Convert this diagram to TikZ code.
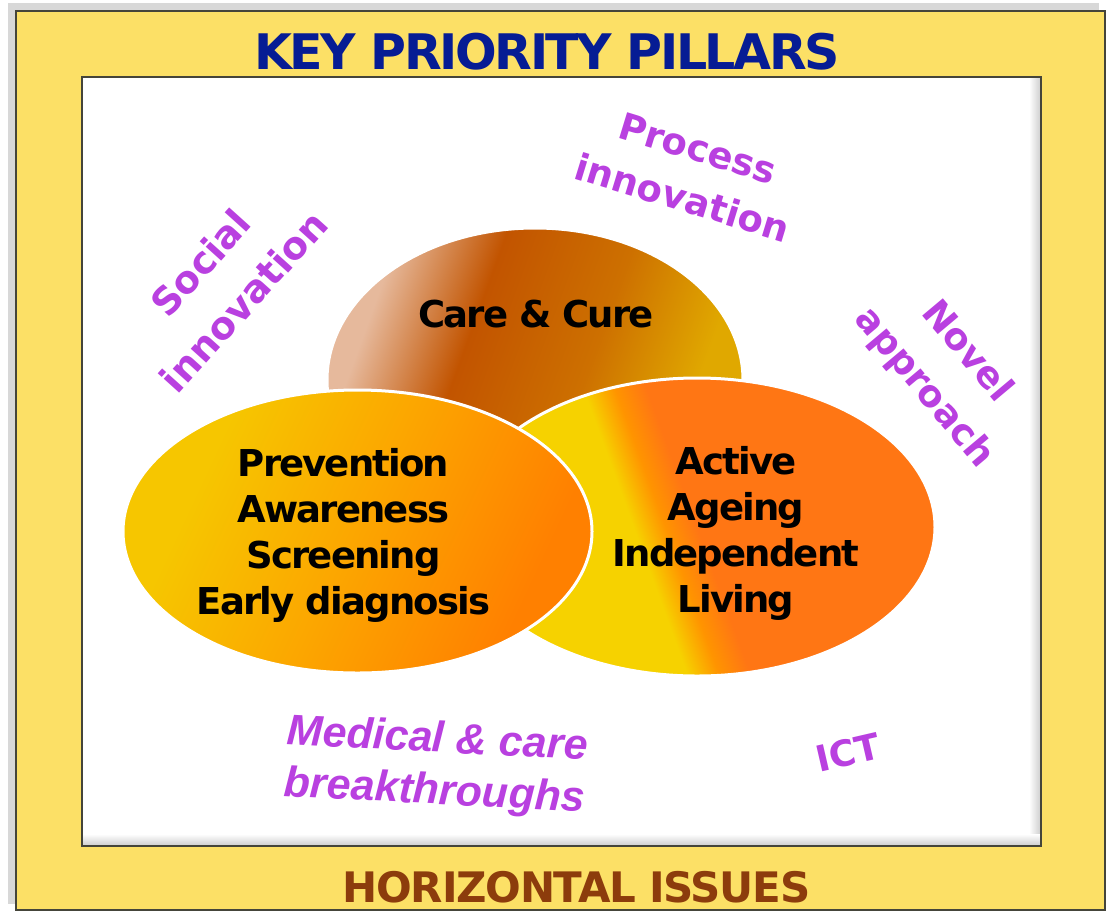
\documentclass[tikz,border=0pt]{standalone}
\usepackage{fontspec}
\usetikzlibrary{shapes.geometric}
\newfontfamily\verdanalike{DejaVu Sans}
\newfontfamily\tahomalike{DejaVu Sans}[LetterSpace=-5]
\newfontfamily\tahomawide{DejaVu Sans}[LetterSpace=-3]
\newfontfamily\ariallike{Liberation Sans}

% palette
\definecolor{frameyellow}{HTML}{FCE066}
\definecolor{outershadow}{HTML}{D8D8D8}
\definecolor{edgedark}{HTML}{45453A}
\definecolor{panelgray}{HTML}{CCCCCC}
\definecolor{titleblue}{HTML}{061C94}
\definecolor{issuebrown}{HTML}{8C3C0C}
\definecolor{issuepurple}{HTML}{B940E0}
% Care & Cure
\definecolor{ccA}{HTML}{E6B99C}
\definecolor{ccB}{HTML}{C25400}
\definecolor{ccC}{HTML}{CD7000}
\definecolor{ccD}{HTML}{E0A800}
% Prevention
\definecolor{pvA}{HTML}{F6C600}
\definecolor{pvB}{HTML}{FCA600}
\definecolor{pvC}{HTML}{FF8000}
% Active ageing
\definecolor{acA}{HTML}{F6D200}
\definecolor{acB}{HTML}{FF9400}
\definecolor{acC}{HTML}{FF7614}

\pgfdeclarehorizontalshading{carecureshade}{100bp}{color(0bp)=(ccA); color(27bp)=(ccA); color(40bp)=(ccB); color(56bp)=(ccC); color(70bp)=(ccD); color(100bp)=(ccD)}
\pgfdeclarehorizontalshading{preventionshade}{100bp}{color(0bp)=(pvA); color(30bp)=(pvA); color(50bp)=(pvB); color(72bp)=(pvC); color(100bp)=(pvC)}
\pgfdeclarehorizontalshading{activeshade}{100bp}{color(0bp)=(acA); color(43bp)=(acA); color(46.5bp)=(acB); color(50bp)=(acC); color(100bp)=(acC)}

\tikzset{
  pillar/.style={ellipse, draw=white, line width=3pt, inner sep=0pt, shade},
  pillartext/.style={font=\tahomalike\bfseries\fontsize{37}{46}\selectfont, text=black, align=center, inner sep=0pt},
  issuetext/.style={text=issuepurple, align=center, inner sep=0pt},
  headline/.style={inner sep=0pt, anchor=base},
}

\begin{document}
\begin{tikzpicture}[x=1pt,y=-1pt]
\useasboundingbox (0,0) rectangle (1106,911);

% outer frame with its soft shadow
\fill[outershadow] (8,3) rectangle (1099,904);
\fill[frameyellow] (16,11) rectangle (1105,910);
\draw[edgedark, line width=1.5pt] (16,11) rectangle (1105,910);

% inner white panel, bevelled at right and bottom
\fill[white] (82,77) rectangle (1041,846);
\shade[left color=white, right color=panelgray] (1029,77) rectangle (1041,846);
\shade[top color=white, bottom color=panelgray] (82,834) rectangle (1041,846);
\draw[edgedark, line width=2pt] (82,77) rectangle (1041,846);

% headings
\node[headline, text=titleblue, font=\tahomalike\bfseries\fontsize{49}{56}\selectfont] (title) at (547,69) {KEY PRIORITY PILLARS};
\node[headline, text=issuebrown, font=\tahomawide\bfseries\fontsize{42}{48}\selectfont] (issues) at (576.5,902) {HORIZONTAL ISSUES};

% the three pillars
\node[pillar, shading=carecureshade, shading angle=-20, minimum width=416pt, minimum height=304pt] (care) at (535,380) {};
\node[pillar, shading=activeshade, shading angle=20, minimum width=476pt, minimum height=298pt] (active) at (697,527) {};
\node[pillar, shading=preventionshade, shading angle=-25, minimum width=469pt, minimum height=283pt] (prevention) at (357.5,531.5) {};

\node[pillartext] (caretext) at (536,314) {Care \& Cure};
\node[pillartext] (preventiontext) at (343.5,535) {Prevention\\Awareness\\Screening\\Early diagnosis};
\node[pillartext] (activetext) at (736,533) {Active\\Ageing\\Independent\\Living};

% horizontal issues around the pillars
\node[issuetext, font=\verdanalike\bfseries\fontsize{38}{58}\selectfont, rotate=48] (social) at (222,282) {Social\\innovation};
\node[issuetext, font=\verdanalike\bfseries\fontsize{37}{52}\selectfont, rotate=-17] (process) at (690,173) {Process\\innovation};
\node[issuetext, font=\verdanalike\bfseries\fontsize{37}{56}\selectfont, rotate=-50] (novel) at (945,370) {Novel\\approach};
\node[issuetext, font=\ariallike\bfseries\itshape\fontsize{43}{52}\selectfont, rotate=-3] (medical) at (436,767) {Medical \& care\\breakthroughs};
\node[issuetext, font=\verdanalike\bfseries\fontsize{36}{44}\selectfont, rotate=13] (ict) at (848,752) {ICT};
\end{tikzpicture}
\end{document}
